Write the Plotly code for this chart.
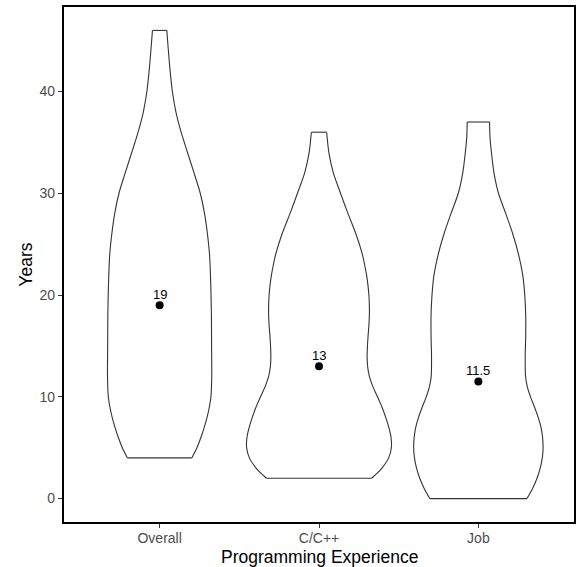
import plotly.graph_objects as go

# ---- data ----
categories = ["Overall", "C/C++", "Job"]
medians = [19, 13, 11.5]
median_labels = ["19", "13", "11.5"]

# violin outlines: y levels (years) and half-widths (in category-axis units)
overall_y = [4, 5, 6, 7, 8, 9, 10, 12, 15, 18, 21, 24, 26, 28, 30, 32, 34, 36, 38, 40, 42, 44, 46]
overall_hw = [0.202, 0.234, 0.259, 0.280, 0.298, 0.312, 0.322, 0.327, 0.326, 0.325, 0.321, 0.313,
              0.300, 0.282, 0.255, 0.216, 0.175, 0.135, 0.102, 0.080, 0.066, 0.055, 0.045]

cpp_y = [2, 2.5, 3, 4, 5, 6, 7, 8, 9, 10, 11, 12, 13, 14, 15, 16, 17, 18, 19, 20, 21, 22, 23, 24,
         26, 28, 30, 32, 34, 36]
cpp_hw = [0.330, 0.365, 0.395, 0.437, 0.454, 0.452, 0.438, 0.418, 0.395, 0.367, 0.338, 0.316, 0.305,
          0.302, 0.304, 0.308, 0.313, 0.316, 0.316, 0.313, 0.307, 0.298, 0.286, 0.272,
          0.232, 0.182, 0.135, 0.090, 0.062, 0.048]

job_y = [0, 1, 2, 3, 4, 5, 6, 7, 8, 9, 10, 11, 12, 14, 16, 18, 20, 22, 24, 26, 28, 30, 32, 34,
         35.5, 37]
job_hw = [0.305, 0.340, 0.368, 0.388, 0.401, 0.406, 0.403, 0.393, 0.375, 0.352, 0.327, 0.307, 0.296,
          0.294, 0.297, 0.297, 0.291, 0.278, 0.252, 0.216, 0.172, 0.126, 0.098, 0.082, 0.073, 0.070]

violins = [(overall_y, overall_hw), (cpp_y, cpp_hw), (job_y, job_hw)]

LINE = dict(color="#333333", width=1.1)
FONT = "Liberation Sans, Arial, Helvetica, sans-serif"

fig = go.Figure()

for i, (ys, hws) in enumerate(violins):
    c = i + 1
    # left and right sides (smooth)
    fig.add_trace(go.Scatter(x=[c - w for w in hws], y=ys, mode="lines",
                             line=dict(**LINE, shape="spline", smoothing=0.8),
                             hoverinfo="skip", showlegend=False))
    fig.add_trace(go.Scatter(x=[c + w for w in hws], y=ys, mode="lines",
                             line=dict(**LINE, shape="spline", smoothing=0.8),
                             hoverinfo="skip", showlegend=False))
    # flat caps at min and max (trimmed violin)
    fig.add_trace(go.Scatter(x=[c - hws[0], c + hws[0], None, c - hws[-1], c + hws[-1]],
                             y=[ys[0], ys[0], None, ys[-1], ys[-1]], mode="lines",
                             line=LINE, hoverinfo="skip", showlegend=False))

# median points
xs = [i + 1 for i in range(len(categories))]
fig.add_trace(go.Scatter(x=xs, y=medians, mode="markers",
                         marker=dict(color="black", size=8),
                         showlegend=False))

annotations = []
for x, m, lab in zip(xs, medians, median_labels):
    annotations.append(dict(x=x, y=m, xref="x", yref="y", text=lab, showarrow=False,
                            yshift=11, yanchor="middle", xanchor="center",
                            font=dict(family=FONT, size=13, color="black")))

annotations.append(dict(x=0.5, y=-0.068, xref="paper", yref="paper",
                        text="Programming Experience", showarrow=False,
                        xanchor="center", yanchor="middle",
                        font=dict(family=FONT, size=17.5, color="black")))
annotations.append(dict(x=-0.0762, y=0.5, xref="paper", yref="paper",
                        text="Years", showarrow=False, textangle=-90,
                        xanchor="center", yanchor="middle",
                        font=dict(family=FONT, size=17.5, color="black")))

fig.update_layout(
    width=579, height=567,
    margin=dict(l=64, r=3, t=7, b=45),
    paper_bgcolor="white", plot_bgcolor="white",
    font=dict(family=FONT),
    annotations=annotations,
    xaxis=dict(range=[0.4, 3.6], tickvals=xs, ticktext=categories,
               showgrid=False, zeroline=False,
               showline=True, linecolor="black", linewidth=2.2, mirror=True,
               ticks="outside", ticklen=4, tickwidth=1, tickcolor="#333333",
               ticklabelstandoff=-2,
               tickfont=dict(family=FONT, size=14, color="#4D4D4D")),
    yaxis=dict(range=[-2.3, 48.3], tickvals=[0, 10, 20, 30, 40],
               showgrid=False, zeroline=False,
               showline=True, linecolor="black", linewidth=2.2, mirror=True,
               ticks="outside", ticklen=4, tickwidth=1, tickcolor="#333333",
               tickfont=dict(family=FONT, size=14, color="#4D4D4D")),
)

fig.write_html("out.html")
